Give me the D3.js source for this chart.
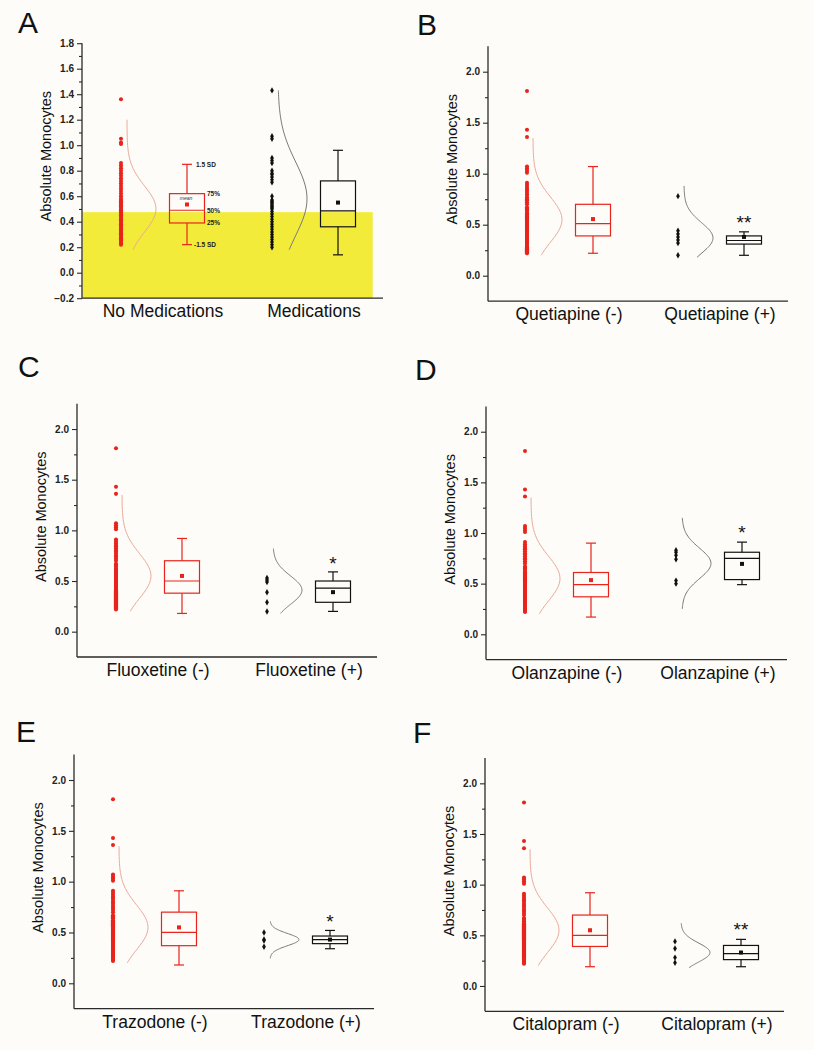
<!DOCTYPE html>
<html>
<head>
<meta charset="utf-8">
<script src="https://cdn.jsdelivr.net/npm/d3@7"></script>
<style>
  html, body { margin: 0; padding: 0; background: #fdfcf8; }
  svg { display: block; font-family: "Liberation Sans", Arial, sans-serif; }
</style>
</head>
<body>
<svg id="chart" width="814" height="1050"></svg>
<script>
// ---------------- DATA ----------------
const panelLetters = ["A", "B", "C", "D", "E", "F"];
const categories = [
  ["No Medications", "Medications"],
  ["Quetiapine (-)", "Quetiapine (+)"],
  ["Fluoxetine (-)", "Fluoxetine (+)"],
  ["Olanzapine (-)", "Olanzapine (+)"],
  ["Trazodone (-)", "Trazodone (+)"],
  ["Citalopram (-)", "Citalopram (+)"]
];
const yLabel = "Absolute Monocytes";
const yTicksA = [-0.2, 0.0, 0.2, 0.4, 0.6, 0.8, 1.0, 1.2, 1.4, 1.6, 1.8];
const yTicksOther = [0.0, 0.5, 1.0, 1.5, 2.0];

// individual values (strip dots)
const redA = [1.36,1.05,1.02,1.01,0.86,0.84,0.82,0.80,0.78,0.76,0.74,0.72,0.70,0.68,0.66,0.64,0.62,0.60,0.58,0.57,0.56,0.55,0.54,0.53,0.52,0.51,0.50,0.49,0.48,0.47,0.46,0.45,0.44,0.43,0.42,0.41,0.40,0.39,0.38,0.37,0.36,0.35,0.34,0.33,0.32,0.31,0.30,0.29,0.28,0.27,0.26,0.25,0.24,0.23,0.22];
const blackA = [1.43,1.07,1.05,0.90,0.88,0.86,0.80,0.78,0.77,0.75,0.73,0.71,0.60,0.57,0.56,0.55,0.54,0.53,0.52,0.51,0.50,0.48,0.46,0.44,0.42,0.40,0.38,0.36,0.34,0.32,0.30,0.28,0.26,0.24,0.22,0.20];
const redNeg = [1.81,1.43,1.36,1.07,1.05,1.03,1.01,0.91,0.89,0.87,0.85,0.84,0.82,0.80,0.79,0.77,0.75,0.74,0.72,0.70,0.67,0.66,0.65,0.64,0.62,0.61,0.60,0.59,0.58,0.57,0.56,0.55,0.54,0.53,0.52,0.51,0.50,0.49,0.48,0.47,0.46,0.45,0.44,0.43,0.42,0.41,0.40,0.39,0.38,0.37,0.36,0.35,0.34,0.33,0.32,0.31,0.30,0.29,0.28,0.27,0.26,0.25,0.24,0.23,0.22];
const blackB = [0.78,0.44,0.41,0.38,0.35,0.32,0.20];
const blackC = [0.53,0.51,0.49,0.39,0.29,0.20];
const blackD = [0.83,0.81,0.78,0.74,0.53,0.50];
const blackE = [0.50,0.43,0.42,0.36];
const blackF = [0.44,0.37,0.28,0.23];

// box stats: [lowWhisker, q1, median, q3, highWhisker, mean]
const boxA = [[0.22,0.39,0.49,0.62,0.85,0.535],[0.14,0.36,0.485,0.72,0.96,0.55]];
const boxB = [[0.22,0.39,0.51,0.70,1.07,0.555],[0.20,0.31,0.345,0.39,0.43,0.38]];
const boxC = [[0.18,0.38,0.50,0.70,0.92,0.55],[0.20,0.29,0.43,0.50,0.59,0.39]];
const boxD = [[0.17,0.37,0.49,0.61,0.90,0.535],[0.49,0.54,0.75,0.81,0.91,0.695]];
const boxE = [[0.18,0.37,0.50,0.70,0.91,0.55],[0.34,0.39,0.43,0.465,0.52,0.43]];
const boxF = [[0.19,0.39,0.50,0.70,0.92,0.55],[0.19,0.26,0.32,0.40,0.46,0.33]];

// normal-curve fit: [low, high, mean, sd]
const curveA = [[0.18,1.20,0.50,0.18],[0.18,1.43,0.58,0.29]];
const curveRedNeg = [0.20,1.35,0.55,0.22];
const curveB = [curveRedNeg,[0.18,0.88,0.37,0.15]];
const curveC = [curveRedNeg,[0.18,0.82,0.41,0.14]];
const curveD = [curveRedNeg,[0.25,1.15,0.70,0.15]];
const curveE = [curveRedNeg,[0.245,0.61,0.43,0.06]];
const curveF = [curveRedNeg,[0.18,0.62,0.33,0.094]];

// significance marks: [text, y value]
const sigMarks = [null, ["**",0.57], ["*",0.72], ["*",1.05], ["*",0.656], ["**",0.60]];

// A-panel annotation labels
const annotA = ["1.5 SD", "75%", "50%", "25%", "-1.5 SD", "mean"];
const yellowTop = 0.475;

const dotsAll = [[redA, blackA],[redNeg, blackB],[redNeg, blackC],[redNeg, blackD],[redNeg, blackE],[redNeg, blackF]];
const boxesAll = [boxA, boxB, boxC, boxD, boxE, boxF];
const curvesAll = [curveA, curveB, curveC, curveD, curveE, curveF];

// ---------------- LAYOUT ----------------
const layout = [
  {x0: 82,  xEnd: 383, domain: [-0.2, 1.8],   range: [298.2, 43.2],  lx: 18,  ly: 33},
  {x0: 488, xEnd: 788, domain: [-0.25, 2.25], range: [301.2, 46.2],  lx: 417, ly: 35},
  {x0: 77,  xEnd: 377, domain: [-0.25, 2.25], range: [657.0, 403.7], lx: 18,  ly: 377},
  {x0: 486, xEnd: 787, domain: [-0.25, 2.25], range: [659.6, 406.4], lx: 415, ly: 380},
  {x0: 74,  xEnd: 374, domain: [-0.25, 2.25], range: [1008.7, 754.6],lx: 16,  ly: 742},
  {x0: 485, xEnd: 784, domain: [-0.25, 2.25], range: [1011.3, 758],  lx: 413, ly: 743}
];
const RED = "#e8241c";
const RED_CURVE = "#eaa896";
const BLACK = "#111";
const GREY_CURVE = "#777";
const AXIS = "#2a2a2a";

const svg = d3.select("#chart");
svg.append("rect").attr("width", 814).attr("height", 1050).attr("fill", "#fdfcf8");

layout.forEach((L, pi) => {
  const g = svg.append("g");
  const y = d3.scaleLinear().domain(L.domain).range(L.range);
  const x = d3.scalePoint().domain(categories[pi]).range([L.x0 + 39, L.x0 + 190]);
  const yBot = L.range[0], yTop = L.range[1];

  // yellow highlight (panel A)
  if (pi === 0) {
    g.append("rect")
      .attr("x", L.x0 + 0.5).attr("y", y(yellowTop))
      .attr("width", 372.7 - L.x0 - 0.5).attr("height", yBot - y(yellowTop))
      .attr("fill", "#f3eb3a");
  }

  // Y axis
  const major = pi === 0 ? yTicksA : yTicksOther;
  const minorVals = pi === 0
    ? [-0.1,0.1,0.3,0.5,0.7,0.9,1.1,1.3,1.5,1.7]
    : [0.25,0.75,1.25,1.75];
  const axis = d3.axisLeft(y).tickValues(major).tickSize(5).tickPadding(3)
    .tickFormat(d3.format(".1f"));
  const ag = g.append("g").attr("transform", `translate(${L.x0},0)`).call(axis);
  ag.select(".domain").remove();
  ag.selectAll(".tick line").attr("stroke", AXIS).attr("stroke-width", 1.1);
  ag.selectAll(".tick text").attr("font-size", 10).attr("fill", "#222")
    .attr("font-family", "'Liberation Sans', Arial, sans-serif").attr("font-weight", "bold")
    .style("font-stretch", "condensed");
  const minorAxis = d3.axisLeft(y).tickValues(minorVals).tickSize(3).tickFormat("");
  const mg = g.append("g").attr("transform", `translate(${L.x0},0)`).call(minorAxis);
  mg.select(".domain").remove();
  mg.selectAll(".tick line").attr("stroke", AXIS).attr("stroke-width", 1.1);

  g.append("line").attr("x1", L.x0).attr("x2", L.x0).attr("y1", yTop).attr("y2", yBot)
    .attr("stroke", AXIS).attr("stroke-width", 1.3);
  g.append("line").attr("x1", L.x0).attr("x2", L.xEnd).attr("y1", yBot).attr("y2", yBot)
    .attr("stroke", AXIS).attr("stroke-width", 1.3);

  // letter
  g.append("text").attr("x", L.lx).attr("y", L.ly).text(panelLetters[pi])
    .attr("font-size", 30).attr("fill", "#111");

  // y label
  g.append("text")
    .attr("transform", `translate(${L.x0 - 36},${yTop + 113}) rotate(-90)`)
    .attr("text-anchor", "middle").attr("dominant-baseline", "central")
    .attr("font-size", 14.5).attr("fill", "#111").text(yLabel);

  // category labels
  categories[pi].forEach(c => {
    g.append("text").attr("x", x(c) + 42).attr("y", yBot + 19)
      .attr("text-anchor", "middle").attr("font-size", 17.5).attr("fill", "#111").text(c);
  });

  categories[pi].forEach((c, gi) => {
    const isRed = gi === 0;
    const col = isRed ? RED : BLACK;
    const sx = x(c);

    // strip dots
    const vals = dotsAll[pi][gi];
    const sym = d3.symbol().type(isRed ? d3.symbolCircle : d3.symbolDiamond).size(isRed ? 13 : 12);
    g.append("g").selectAll("path").data(vals).join("path")
      .attr("d", sym)
      .attr("transform", d => `translate(${sx},${y(d)})`)
      .attr("fill", col);

    // normal curve
    const [lo, hi, mu, sd] = curvesAll[pi][gi];
    const nSteps = 80;
    const pts = d3.range(nSteps + 1).map(i => lo + (hi - lo) * i / nSteps);
    const line = d3.line()
      .x(v => sx + 6 + 29 * Math.exp(-0.5 * Math.pow((v - mu) / sd, 2)))
      .y(v => y(v))
      .curve(d3.curveBasis);
    g.append("path").attr("d", line(pts)).attr("fill", "none")
      .attr("stroke", isRed ? RED_CURVE : GREY_CURVE).attr("stroke-width", 1);

    // box
    const [wl, q1, med, q3, wh, mean] = boxesAll[pi][gi];
    const bx = sx + 66, bw = 35;
    const bg = g.append("g").attr("stroke", col).attr("stroke-width", 1.2).attr("fill", "none");
    bg.append("rect").attr("x", bx - bw / 2).attr("y", y(q3))
      .attr("width", bw).attr("height", y(q1) - y(q3));
    bg.append("line").attr("x1", bx - bw / 2).attr("x2", bx + bw / 2).attr("y1", y(med)).attr("y2", y(med));
    bg.append("line").attr("x1", bx).attr("x2", bx).attr("y1", y(q3)).attr("y2", y(wh));
    bg.append("line").attr("x1", bx).attr("x2", bx).attr("y1", y(q1)).attr("y2", y(wl));
    bg.append("line").attr("x1", bx - 5).attr("x2", bx + 5).attr("y1", y(wh)).attr("y2", y(wh));
    bg.append("line").attr("x1", bx - 5).attr("x2", bx + 5).attr("y1", y(wl)).attr("y2", y(wl));
    g.append("rect").attr("x", bx - 2).attr("y", y(mean) - 2).attr("width", 4).attr("height", 4).attr("fill", col);

    // annotations on panel A red box
    if (pi === 0 && isRed) {
      const ta = g.append("g").attr("font-size", 6.5).attr("fill", "#222").attr("font-weight", "bold");
      ta.append("text").attr("x", bx + 9).attr("y", y(wh)).attr("dominant-baseline", "central").text(annotA[0]);
      ta.append("text").attr("x", bx + 20).attr("y", y(q3)).attr("dominant-baseline", "central").text(annotA[1]);
      ta.append("text").attr("x", bx + 20).attr("y", y(med)).attr("dominant-baseline", "central").text(annotA[2]);
      ta.append("text").attr("x", bx + 20).attr("y", y(q1)).attr("dominant-baseline", "central").text(annotA[3]);
      ta.append("text").attr("x", bx + 7).attr("y", y(wl)).attr("dominant-baseline", "central").text(annotA[4]);
      g.append("text").attr("x", bx - 1).attr("y", y(mean) - 4).attr("text-anchor", "middle")
        .attr("font-size", 5).attr("font-style", "italic").attr("fill", "#333").text(annotA[5]);
    }

    // significance
    if (!isRed && sigMarks[pi]) {
      g.append("text").attr("x", bx).attr("y", y(sigMarks[pi][1]) + 11)
        .attr("text-anchor", "middle").attr("font-size", 19).attr("fill", "#111")
        .text(sigMarks[pi][0]);
    }
  });
});
</script>
</body>
</html>
